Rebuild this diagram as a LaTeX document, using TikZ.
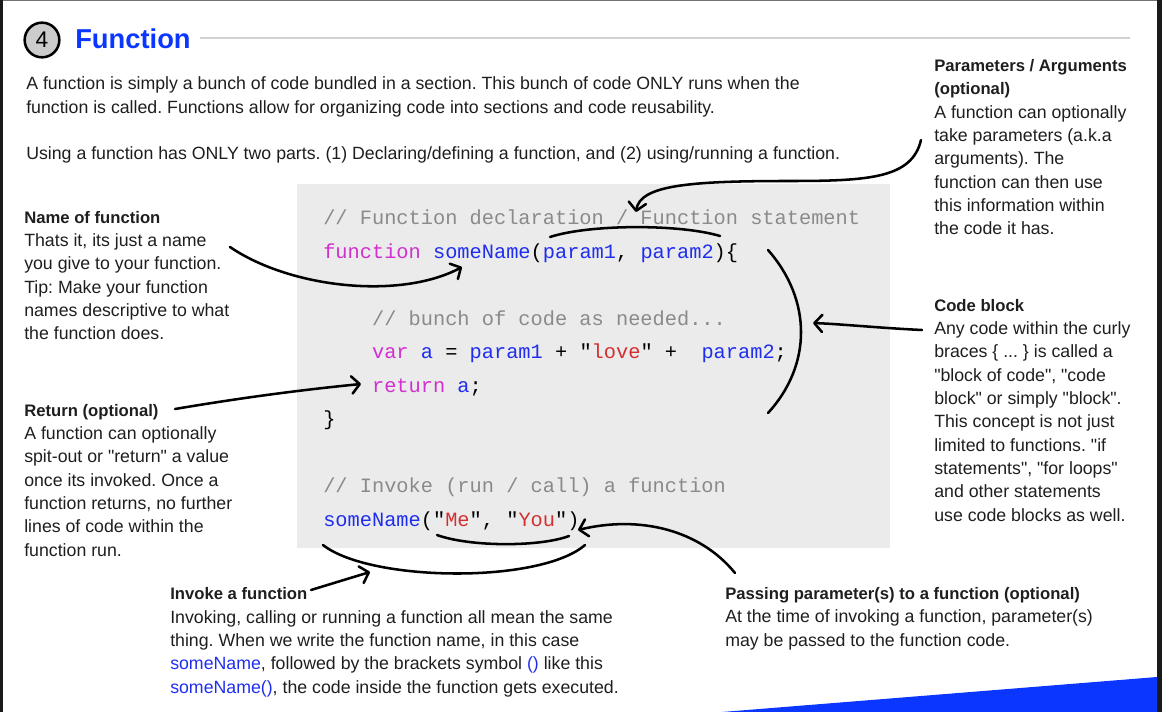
\documentclass[tikz,border=0pt]{standalone}
\usepackage{fontspec}
\setmainfont{Liberation Sans}[Ligatures=TeXOff]
\setmonofont{Liberation Mono}
\usepackage{xcolor}
\usetikzlibrary{arrows.meta}

\definecolor{fnblue}{HTML}{0A36FF}
\definecolor{idblue}{HTML}{1F2EEE}
\definecolor{kwmag}{HTML}{D12FD1}
\definecolor{strred}{HTML}{D42F2F}
\definecolor{cmtgray}{HTML}{8A8A8A}
\definecolor{codebg}{HTML}{EBEBEB}
\definecolor{txt}{HTML}{1E1E1E}

\newcommand{\kw}[1]{\textcolor{kwmag}{#1}}
\newcommand{\idn}[1]{\textcolor{idblue}{#1}}
\newcommand{\cstr}[1]{\textcolor{strred}{#1}}
\newcommand{\cmt}[1]{\textcolor{cmtgray}{#1}}
\newcommand{\lnk}[1]{\textcolor{idblue}{#1}}
\newcommand{\hd}[1]{{\fontsize{12.5}{17.5}\selectfont\bfseries #1}}

\begin{document}
\begin{tikzpicture}[
    x=0.75pt, y=-0.75pt,
    font=\fontsize{13.3}{17.5}\selectfont\frenchspacing,
    lbl/.style={anchor=base west, align=left, inner sep=0pt, text=txt},
    hand/.style={line width=1.9pt, line cap=round,
      -{Straight Barb[length=6pt,width=13pt,line cap=round,line join=round]}},
    swoop/.style={line width=1.9pt, line cap=round},
  ]
    \useasboundingbox (0,0) rectangle (1162,712);

    % ---------- frame ----------
    \fill[black!55] (0,0) rectangle (1157,1.5);
    \fill[black!90] (0,0) rectangle (2.5,712);
    \fill[black!90] (1157,0) rectangle (1162,712);
    \fill[fnblue] (722,712) -- (1157,677) -- (1157,712) -- cycle;

    % ---------- title ----------
    \node[circle, draw=black, line width=1.9pt, fill=black!20, minimum size=26pt,
      inner sep=0pt, font=\fontsize{17}{17}\selectfont] (num) at (42,40) {4};
    \node[anchor=west, inner sep=0pt, text=fnblue,
      font=\fontsize{20.5}{20.5}\selectfont\bfseries] (title) at (75,39) {Function};
    \draw[black!18, line width=1.9pt] (200,38) -- (1130,38);

    % (multi-line nodes sit on the baseline of their last line)
    \node[lbl] (intro) at (26,160)
      {A function is simply a bunch of code bundled in a section. This bunch of code ONLY runs when the\\
       function is called. Functions allow for organizing code into sections and code reusability.\\[17.5pt]
       Using a function has ONLY two parts. (1) Declaring/defining a function, and (2) using/running a function.};

    % ---------- code ----------
    \fill[codebg] (297,184) rectangle (890,548);
    \node[lbl, text=black, font=\fontsize{15.25}{25.1}\selectfont\ttfamily\frenchspacing] (code) at (323,526)
      {\cmt{// Function declaration / Function statement}\\
       \kw{function} \idn{someName}(\idn{param1}, \idn{param2})\{\\[25.1pt]
       \phantom{xxxx}\cmt{// bunch of code as needed...}\\
       \phantom{xxxx}\kw{var} \idn{a} = \idn{param1} + "\cstr{love}" +~~\idn{param2};\\
       \phantom{xxxx}\kw{return} \idn{a};\\
       \}\\[25.1pt]
       \cmt{// Invoke (run / call) a function}\\
       \idn{someName}("\cstr{Me}", "\cstr{You}")};

    % ---------- notes ----------
    \node[lbl] (nameNote) at (24,340)
      {\hd{Name of function}\\Thats it, its just a name\\you give to your function.\\
       Tip: Make your function\\names descriptive to what\\the function does.};
    \node[lbl] (retNote) at (24,556)
      {\hd{Return (optional)}\\A function can optionally\\spit-out or "return" a value\\
       once its invoked. Once a\\function returns, no further\\lines of code within the\\function run.};
    \node[lbl] (paramNote) at (934,235)
      {\hd{Parameters / Arguments}\\\hd{(optional)}\\A function can optionally\\
       take parameters (a.k.a\\arguments). The\\function can then use\\this information within\\the code it has.};
    \node[lbl] (blockNote) at (934,521)
      {\hd{Code block}\\Any code within the curly\\braces \{ ... \} is called a\\
       "block of code", "code\\block" or simply "block".\\This concept is not just\\
       limited to functions. "if\\statements", "for loops"\\and other statements\\use code blocks as well.};
    \node[lbl] (invNote) at (170,693)
      {\hd{Invoke a function}\\Invoking, calling or running a function all mean the same\\
       thing. When we write the function name, in this case\\
       \lnk{someName}, followed by the brackets symbol \lnk{()} like this\\
       \lnk{someName()}, the code inside the function gets executed.};
    \node[lbl] (passNote) at (725,646)
      {\hd{Passing parameter(s) to a function (optional)}\\
       At the time of invoking a function, parameter(s)\\may be passed to the function code.};

    % ---------- hand-drawn pointers ----------
    \coordinate (nameFrom) at (230,247);   \coordinate (nameTo) at (462,267);
    \coordinate (parFrom) at (921,140);    \coordinate (parTo) at (636,212);
    \coordinate (blkFrom) at (922,330);    \coordinate (blkTo) at (813,323);
    \coordinate (retFrom) at (175,409);    \coordinate (retTo) at (361,384);
    \coordinate (invFrom) at (311,590);    \coordinate (invTo) at (370,572);
    \coordinate (passFrom) at (735,573);   \coordinate (passTo) at (578,530);

    \draw[hand] (nameFrom) .. controls (290,288) and (400,300) .. (nameTo);
    \draw[hand] (parFrom) .. controls (912,178) and (870,181) .. (790,181)
                          .. controls (690,181) and (640,185) .. (parTo);
    \draw[hand] (blkFrom) .. controls (880,328) and (840,324) .. (blkTo);
    \draw[hand] (retFrom) .. controls (240,398) and (300,390) .. (retTo);
    \draw[hand] (invFrom) -- (invTo);
    \draw[hand] (passFrom) .. controls (700,530) and (640,515) .. (passTo);

    \draw[swoop] (550,237) .. controls (590,224) and (680,224) .. (720,236);
    \draw[swoop] (768,250) .. controls (812,300) and (812,365) .. (768,413);
    \draw[swoop] (437,535) .. controls (470,547) and (540,547) .. (569,536);
    \draw[swoop] (323,545) .. controls (370,582) and (540,584) .. (585,545);
\end{tikzpicture}
\end{document}
